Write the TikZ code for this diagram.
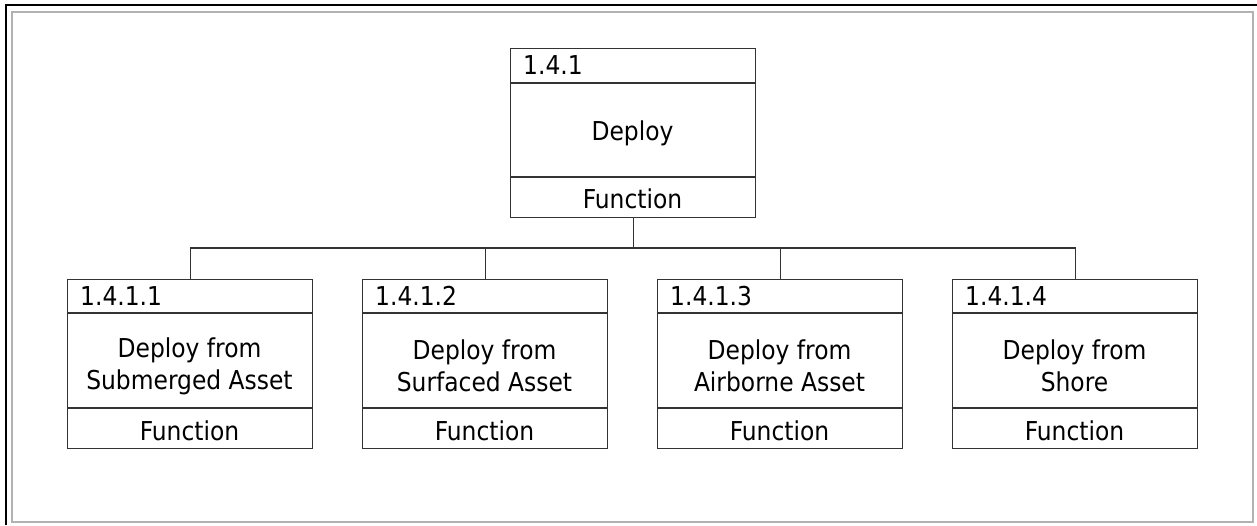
\documentclass[tikz,border=0pt]{standalone}
\usepackage{fontspec}
\setmainfont{DejaVu Sans Condensed}
\begin{document}
\begin{tikzpicture}[x=1pt,y=-1pt,
  ln/.style={draw=black!80,line width=1.3pt},
  fbox/.style={ln,minimum width=245pt,minimum height=169pt,inner sep=0pt,anchor=north west},
  idtext/.style={anchor=base west,inner sep=0pt,font=\fontsize{26}{32}\selectfont},
  bodytext/.style={align=center,inner sep=0pt,font=\fontsize{26}{32}\selectfont},
  conn/.style={draw=black!80,line width=1.3pt}]
\useasboundingbox (0,0) rectangle (1257,525);
% frame
\draw[black!30,line width=1.5pt] (12,12) rectangle (1253,522);
\draw[black,line width=1.6pt] (6,525) -- (6,5) -- (1257,5);
% top box
\node[fbox] (top) at (510,48) {};
\draw[ln] (510,83) -- (755,83) (510,177) -- (755,177);
\node[idtext] (topid) at (523,74) {1.4.1};
\node[bodytext] (topbody) at (632.5,133) {Deploy};
\node[bodytext,anchor=base] (topfn) at (632.5,208) {Function};
% bottom boxes
\foreach \i/\x/\id/\txt in {1/67/1.4.1.1/{Deploy from\\Submerged Asset},
                            2/362/1.4.1.2/{Deploy from\\Surfaced Asset},
                            3/657/1.4.1.3/{Deploy from\\Airborne Asset},
                            4/952/1.4.1.4/{Deploy from\\Shore}}{
  \node[fbox] (b\i) at (\x,279) {};
  \draw[ln] (\x,313) -- ++(245,0) (\x,408) -- ++(245,0);
  \node[idtext] (b\i id) at (\x+13,305) {\id};
  \node[bodytext] (b\i body) at (\x+122.5,366) {\txt};
  \node[bodytext,anchor=base] (b\i fn) at (\x+122.5,440) {Function};
}
% connectors
\coordinate (bus) at (632.5,248);
\draw[conn] (top.south) -- (top.south |- bus);
\draw[conn] (b1.north) |- (bus) -| (b4.north);
\draw[conn] (b2.north) -- (b2.north |- bus);
\draw[conn] (b3.north) -- (b3.north |- bus);
\end{tikzpicture}
\end{document}
